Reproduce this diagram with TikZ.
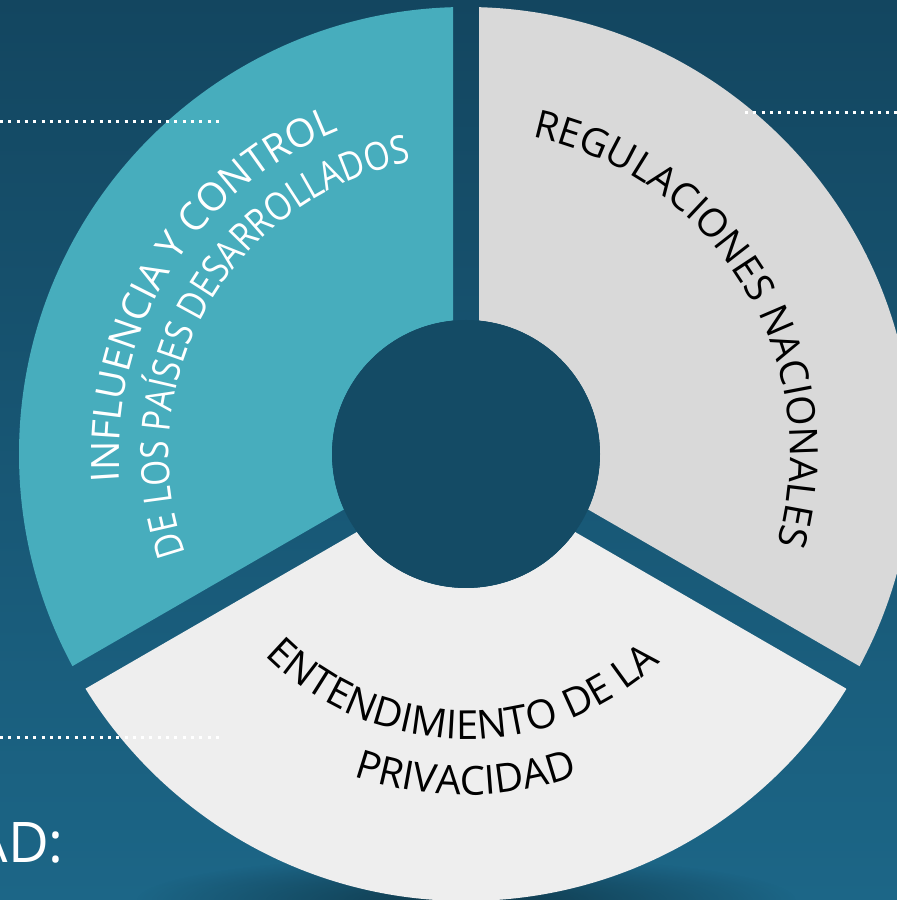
\documentclass[tikz,border=0pt]{standalone}
\usepackage{fontspec}
\setmainfont{Open Sans}
\newfontfamily\narrowfont[FakeStretch=0.86]{Open Sans}
\usetikzlibrary{decorations.text, fadings}
\definecolor{bgtop}{HTML}{134660}
\definecolor{bgmid}{HTML}{144B65}
\definecolor{bgbot}{HTML}{1C6687}
\definecolor{segteal}{HTML}{47ADBD}
\definecolor{seggray}{HTML}{D9D9D9}
\definecolor{seglight}{HTML}{EEEEEE}
\newcommand{\ringfont}{\fontsize{39}{41}\selectfont}
\newcommand{\lowfont}{\fontsize{40}{42}\selectfont}
\tikzfading[name=shadowfade, inner color=transparent!0, outer color=transparent!100]
\tikzset{
	arctext/.style={decorate, decoration={text along path, text align=center, text={#1}}},
	dots/.style={draw=white, line width=3pt, dash pattern=on 3pt off 5.3pt},
}

\begin{document}
\begin{tikzpicture}[x=1pt, y=1pt]
		\useasboundingbox (0,0) rectangle (897,900);
		\shade[top color=bgtop, middle color=bgmid, bottom color=bgbot] (0,0) rectangle (897,900);
		\fill[black, opacity=.45, path fading=shadowfade] (466,0) ellipse[x radius=330, y radius=45];
		\coordinate (c) at (466,446);
		\foreach \ang/\col in {150/segteal, 30/seggray, 270/seglight}{
			\begin{scope}
				\clip ([shift={(\ang:15)}]c) -- ++(\ang-60:1200) -- ++(\ang+90:2078) -- cycle;
				\fill[\col, even odd rule] (c) circle[radius=447] (c) circle[radius=134];
			\end{scope}
		}
		\fill[bgmid] (c) circle[radius=134];
		\path[arctext={|\ringfont\color{white}|INFLUENCIA Y CONTROL}]
			([shift={(210:347)}]c) arc[start angle=210, end angle=86, radius=347];
		\path[arctext={|\narrowfont\ringfont\color{white}|DE LOS PAÍSES DESARROLLADOS}]
			([shift={(215:297)}]c) arc[start angle=215, end angle=85, radius=297];
		\path[arctext={|\ringfont\color{black}|REGULACIONES NACIONALES}]
			([shift={(95:324)}]c) arc[start angle=95, end angle=-33, radius=324];
		\path[arctext={|\lowfont\color{black}|ENTENDIMIENTO DE LA}]
			([shift={(205:285)}]c) arc[start angle=205, end angle=333, radius=285];
		\path[arctext={|\lowfont\color{black}|PRIVACIDAD}]
			([shift={(230:341)}]c) arc[start angle=230, end angle=310, radius=341];
		\coordinate (topleftA) at (0,778);
		\coordinate (topleftB) at (220,778);
		\coordinate (toprightA) at (745,787);
		\coordinate (toprightB) at (897,787);
		\coordinate (lowleftA) at (0,162);
		\coordinate (lowleftB) at (220,162);
		\draw[dots] (topleftA) -- (topleftB);
		\draw[dots] (toprightA) -- (toprightB);
		\draw[dots] (lowleftA) -- (lowleftB);
		\node[white, font=\fontsize{56}{60}\selectfont, anchor=base east, inner sep=0] (ad) at (64,37) {AD:};
\end{tikzpicture}
\end{document}
